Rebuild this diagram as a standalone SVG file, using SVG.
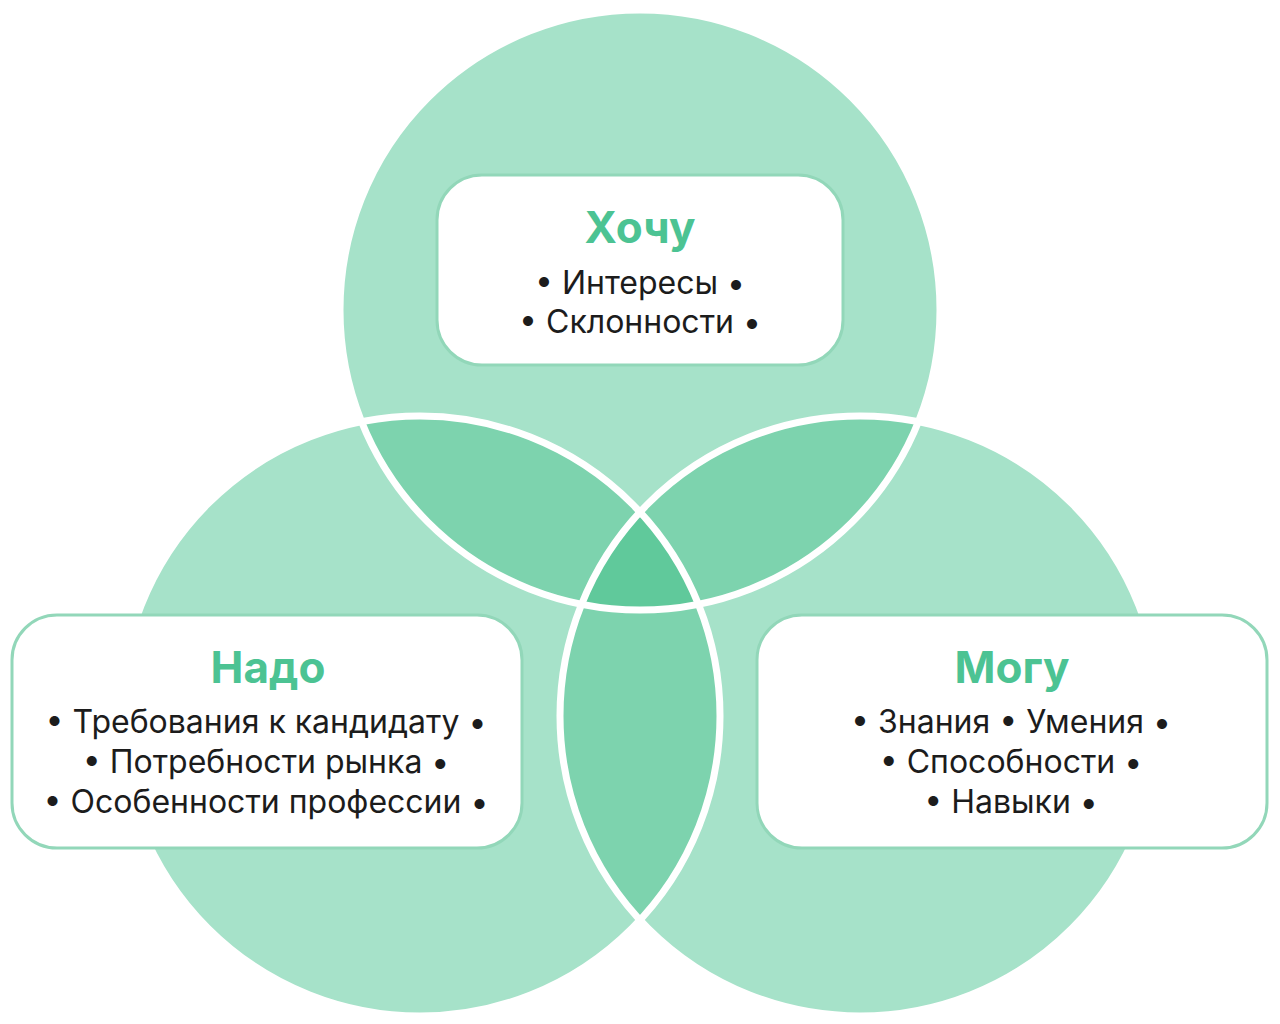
<svg xmlns="http://www.w3.org/2000/svg" width="1280" height="1024" viewBox="0 0 1280 1024">
<style>
.base{fill:#a6e2c9}
.mid{fill:#7dd3ae}
.core{fill:#60c99b}
.edge{fill:none;stroke:#ffffff;stroke-width:7}
.box{fill:#ffffff;stroke:#92d7b9;stroke-width:3}
.title{font-family:Inter,"Liberation Sans",Arial,sans-serif;font-weight:bold;font-size:44px;fill:#4cc393;text-anchor:middle}
.item{font-family:Inter,"Liberation Sans",Arial,sans-serif;font-size:32px;fill:#1c1c1c;text-anchor:middle}
</style>
<defs>
<clipPath id="cT"><circle cx="640" cy="310" r="300"/></clipPath>
<clipPath id="cL"><circle cx="420" cy="716" r="300"/></clipPath>
<clipPath id="cR"><circle cx="860" cy="716" r="300"/></clipPath>
</defs>
<rect width="1280" height="1024" fill="#ffffff"/>
<g id="circles">
<circle class="base" cx="640" cy="310" r="300"/>
<circle class="base" cx="420" cy="716" r="300"/>
<circle class="base" cx="860" cy="716" r="300"/>
<circle class="mid" cx="640" cy="310" r="300" clip-path="url(#cL)"/>
<circle class="mid" cx="640" cy="310" r="300" clip-path="url(#cR)"/>
<circle class="mid" cx="420" cy="716" r="300" clip-path="url(#cR)"/>
<g clip-path="url(#cL)"><circle class="core" cx="640" cy="310" r="300" clip-path="url(#cR)"/></g>
<circle class="edge" cx="640" cy="310" r="300"/>
<circle class="edge" cx="420" cy="716" r="300"/>
<circle class="edge" cx="860" cy="716" r="300"/>
</g>
<g id="node-hochu">
<rect class="box" x="437" y="175" width="406" height="190" rx="45"/>
<text class="title" x="640" y="243">Хочу</text>
<text class="item" x="640" y="294">• Интересы •</text>
<text class="item" x="640" y="333">• Склонности •</text>
</g>
<g id="node-nado">
<rect class="box" x="12" y="615" width="510" height="233" rx="45"/>
<text class="title" x="268" y="683">Надо</text>
<text class="item" x="266" y="733">• Требования к кандидату •</text>
<text class="item" x="266" y="773">• Потребности рынка •</text>
<text class="item" x="266" y="813">• Особенности профессии •</text>
</g>
<g id="node-mogu">
<rect class="box" x="757" y="615" width="510" height="233" rx="45"/>
<text class="title" x="1012" y="683">Могу</text>
<text class="item" x="1011" y="733">• Знания • Умения •</text>
<text class="item" x="1011" y="773">• Способности •</text>
<text class="item" x="1011" y="813">• Навыки •</text>
</g>
<g id="connectors"></g>
</svg>
